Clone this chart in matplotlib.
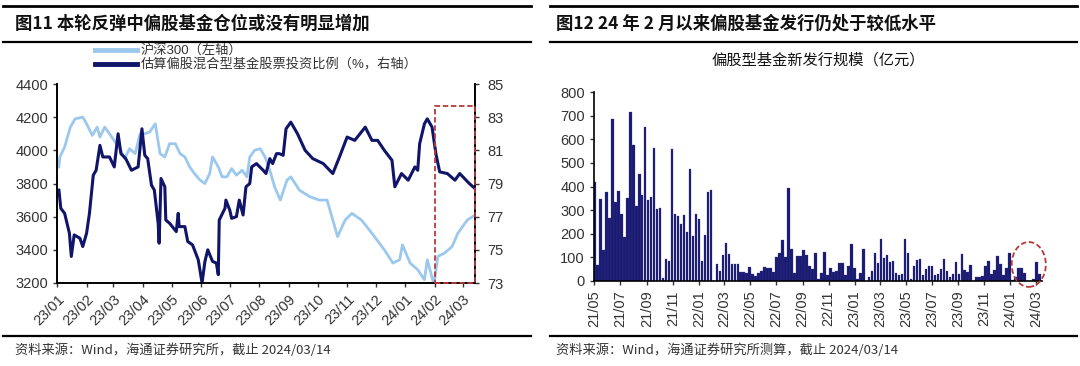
import matplotlib
matplotlib.use("Agg")
import matplotlib.pyplot as plt
import matplotlib.dates as mdates
from matplotlib.lines import Line2D
from matplotlib.patches import Rectangle, Ellipse
import pandas as pd

plt.rcParams["font.family"] = ["Liberation Sans", "Noto Sans CJK SC", "DejaVu Sans"]
CJK = ["Noto Sans CJK SC", "DejaVu Sans"]

# ---- left chart data ----
csi_dates = [
    "2023-01-03", "2023-01-04", "2023-01-09", "2023-01-15", "2023-01-20", "2023-01-28",
    "2023-02-01", "2023-02-07", "2023-02-12", "2023-02-15", "2023-02-20", "2023-02-25",
    "2023-03-03", "2023-03-08", "2023-03-13", "2023-03-18", "2023-03-24", "2023-03-29",
    "2023-04-03", "2023-04-08", "2023-04-14", "2023-04-19", "2023-04-24", "2023-04-29",
    "2023-05-05", "2023-05-10", "2023-05-15", "2023-05-20", "2023-05-25", "2023-05-31",
    "2023-06-05", "2023-06-10", "2023-06-13", "2023-06-19", "2023-06-23", "2023-06-28",
    "2023-07-03", "2023-07-08", "2023-07-14", "2023-07-19", "2023-07-22", "2023-07-27",
    "2023-08-02", "2023-08-07", "2023-08-12", "2023-08-17", "2023-08-23", "2023-08-30",
    "2023-09-03", "2023-09-12", "2023-09-23", "2023-10-03", "2023-10-11", "2023-10-22",
    "2023-10-30", "2023-11-06", "2023-11-16", "2023-11-27", "2023-12-10", "2023-12-19",
    "2023-12-26", "2023-12-29", "2024-01-06", "2024-01-14", "2024-01-21", "2024-01-24",
    "2024-01-31", "2024-02-04", "2024-02-11", "2024-02-19", "2024-02-25", "2024-03-01",
    "2024-03-06", "2024-03-14",
]
csi300 = [
    3900, 3960, 4020, 4140, 4190, 4200, 4160, 4090, 4140, 4080, 4140, 4100,
    4050, 4010, 3950, 4010, 3980, 4100, 4100, 4110, 4160, 3980, 3960, 4040,
    4040, 3980, 3960, 3900, 3860, 3820, 3800, 3860, 3960, 3900, 3840, 3840,
    3890, 3850, 3880, 3840, 3960, 4000, 4010, 3960, 3880, 3780, 3700, 3820,
    3840, 3760, 3720, 3700, 3700, 3480, 3580, 3620, 3580, 3500, 3400, 3320,
    3340, 3430, 3320, 3280, 3220, 3340, 3190, 3360, 3380, 3420, 3500, 3540,
    3580, 3610,
]

pos_dates = [
    "2023-01-03", "2023-01-05", "2023-01-09", "2023-01-14", "2023-01-16", "2023-01-19",
    "2023-01-25", "2023-01-28", "2023-02-01", "2023-02-04", "2023-02-08", "2023-02-11",
    "2023-02-15", "2023-02-18", "2023-02-25", "2023-03-02", "2023-03-06", "2023-03-09",
    "2023-03-14", "2023-03-20", "2023-03-27", "2023-03-31", "2023-04-03", "2023-04-06",
    "2023-04-10", "2023-04-13", "2023-04-17", "2023-04-18", "2023-04-20", "2023-04-24",
    "2023-04-25", "2023-04-29", "2023-05-06", "2023-05-08", "2023-05-09", "2023-05-15",
    "2023-05-18", "2023-05-23", "2023-05-29", "2023-06-02", "2023-06-05", "2023-06-08",
    "2023-06-13", "2023-06-17", "2023-06-19", "2023-06-20", "2023-06-26", "2023-06-27",
    "2023-07-01", "2023-07-03", "2023-07-08", "2023-07-11", "2023-07-15", "2023-07-18",
    "2023-07-22", "2023-07-24", "2023-07-29", "2023-08-05", "2023-08-08", "2023-08-12",
    "2023-08-15", "2023-08-19", "2023-08-22", "2023-08-26", "2023-08-29", "2023-09-03",
    "2023-09-10", "2023-09-18", "2023-09-26", "2023-10-07", "2023-10-17", "2023-10-24",
    "2023-11-01", "2023-11-09", "2023-11-20", "2023-11-27", "2023-12-03", "2023-12-10",
    "2023-12-18", "2023-12-21", "2023-12-28", "2024-01-04", "2024-01-11", "2024-01-14",
    "2024-01-16", "2024-01-21", "2024-01-24", "2024-01-29", "2024-02-02", "2024-02-06",
    "2024-02-14", "2024-02-22", "2024-02-27", "2024-03-03", "2024-03-08", "2024-03-14",
]
fund_position = [
    78.6, 77.5, 77.2, 76.0, 74.6, 75.9, 75.7, 75.2, 76.0, 77.2, 79.5, 79.8,
    81.3, 80.6, 80.6, 80.0, 82.0, 80.8, 80.5, 79.8, 80.0, 82.3, 80.7, 80.5,
    78.9, 78.6, 76.6, 75.4, 79.3, 78.8, 76.8, 76.6, 76.1, 77.2, 76.4, 76.4,
    75.5, 75.3, 74.4, 73.0, 74.3, 75.0, 74.3, 74.2, 73.5, 76.8, 77.5, 78.0,
    77.4, 76.9, 77.0, 78.0, 77.1, 78.8, 79.0, 80.0, 80.2, 79.8, 79.6, 80.5,
    80.2, 80.8, 80.8, 80.7, 82.3, 82.7, 82.0, 81.0, 80.5, 80.2, 79.6, 80.6,
    81.8, 81.6, 82.4, 81.6, 81.6, 81.0, 80.4, 78.8, 79.6, 79.2, 80.0, 79.8,
    81.4, 82.6, 82.9, 82.4, 80.8, 79.7, 79.6, 79.2, 79.6, 79.3, 79.0, 78.7,
]

# ---- right chart data: weekly new issuance (100m CNY) ----
issue_start = "2021-05-01"
issuance = [
    420, 66, 349, 133, 378, 265, 686, 336, 380, 285, 185, 350, 715, 575, 319, 452,
    365, 650, 343, 355, 563, 305, 310, 14, 93, 85, 558, 285, 275, 243, 280, 207,
    472, 190, 282, 262, 85, 193, 375, 386, 0, 73, 42, 110, 160, 115, 70, 70,
    70, 40, 40, 35, 60, 30, 22, 35, 42, 60, 55, 55, 40, 100, 120, 175,
    100, 395, 135, 35, 105, 105, 130, 110, 65, 50, 120, 10, 35, 124, 25, 53,
    40, 44, 77, 75, 25, 63, 155, 53, 7, 32, 134, 0, 15, 44, 120, 77,
    177, 96, 110, 82, 86, 35, 25, 30, 176, 117, 7, 63, 89, 94, 25, 50,
    63, 63, 25, 30, 52, 93, 44, 18, 28, 80, 28, 114, 46, 37, 68, 0,
    15, 15, 21, 65, 84, 30, 46, 107, 72, 25, 53, 120, 4, 18, 53, 53,
    32, 0, 0, 10, 80, 28,
]

LIGHT = "#9cc8ee"
NAVY = "#101569"
BAR = "#1a1a70"
RED = "#b83a3a"
TXT = "#333333"

fig = plt.figure(figsize=(10.8, 3.66), dpi=100)
W, H = 1080.0, 366.0


def fx(px):
    return px / W


def fy(py):
    return 1 - py / H


def hline(x0, x1, y, lw=2.0):
    fig.add_artist(Line2D([fx(x0), fx(x1)], [fy(y), fy(y)], color="black", lw=lw))


# rules, titles, footers
for x0, x1 in [(3, 531), (550, 1077)]:
    hline(x0, x1, 6)
    hline(x0, x1, 42, lw=1.6)
    hline(x0, x1, 336, lw=1.6)

fig.text(fx(15), fy(24), "图11 本轮反弹中偏股基金仓位或没有明显增加", family=CJK,
         fontsize=12.5, fontweight="bold", va="center", color="#111111")
fig.text(fx(556), fy(24), "图12 24 年 2 月以来偏股基金发行仍处于较低水平", family=CJK,
         fontsize=12.5, fontweight="bold", va="center", color="#111111")
fig.text(fx(15), fy(350), "资料来源：Wind，海通证券研究所，截止 2024/03/14", family=CJK,
         fontsize=9.5, va="center", color=TXT)
fig.text(fx(556), fy(350), "资料来源：Wind，海通证券研究所测算，截止 2024/03/14", family=CJK,
         fontsize=9.5, va="center", color=TXT)

# ---- left chart ----
ax = fig.add_axes([fx(57), fy(283), fx(475 - 57), (283 - 84) / H])
ax2 = ax.twinx()
d_csi = pd.to_datetime(csi_dates)
d_pos = pd.to_datetime(pos_dates)
ax.plot(d_csi, csi300, color=LIGHT, lw=2.0, solid_joinstyle="round")
ax2.plot(d_pos, fund_position, color=NAVY, lw=2.2, solid_joinstyle="round")
ax.set_ylim(3200, 4400)
ax.set_yticks(range(3200, 4401, 200))
ax2.set_ylim(73, 85)
ax2.set_yticks(range(73, 86, 2))
ax.set_xlim(pd.Timestamp("2023-01-01"), pd.Timestamp("2024-03-14"))
lticks = pd.date_range("2023-01-01", "2024-03-01", freq="MS")
ax.set_xticks(lticks)
ax.set_xticklabels([d.strftime("%y/%m") for d in lticks], rotation=45, ha="right",
                   rotation_mode="anchor", fontsize=10, color=TXT)
for a in (ax, ax2):
    a.spines["top"].set_visible(False)
    a.tick_params(labelsize=10.5, colors=TXT, length=3, width=1)
    for s in a.spines.values():
        s.set_linewidth(1.2)
ax.tick_params(axis="y", pad=3)
ax2.tick_params(axis="y", pad=6)
ax.set_zorder(ax2.get_zorder() - 1)
ax2.patch.set_visible(False)

ax2.add_patch(Rectangle((mdates.date2num(pd.Timestamp("2024-02-01")), 73),
                        mdates.date2num(pd.Timestamp("2024-03-14")) - mdates.date2num(pd.Timestamp("2024-02-01")),
                        10.7, fill=False, ec=RED, ls=(0, (3, 1.5)), lw=1.3, clip_on=False, zorder=5))

fig.add_artist(Line2D([fx(95), fx(137)], [fy(50), fy(50)], color=LIGHT, lw=3.5))
fig.add_artist(Line2D([fx(95), fx(137)], [fy(64), fy(64)], color=NAVY, lw=3.5))
fig.text(fx(141), fy(50), "沪深300（左轴）", family=["Liberation Sans", "Noto Sans CJK SC"],
         fontsize=9.5, va="center", color=TXT)
fig.text(fx(141), fy(64), "估算偏股混合型基金股票投资比例（%，右轴）",
         family=["Liberation Sans", "Noto Sans CJK SC"], fontsize=9.5, va="center", color=TXT)

# ---- right chart ----
bx = fig.add_axes([fx(594), fy(281), fx(1042 - 594), (281 - 92) / H])
bdates = pd.date_range(issue_start, periods=len(issuance), freq="7D")
bx.bar(bdates, issuance, width=6.0, color=BAR, edgecolor="#3a3a90", linewidth=0.2)
bx.set_ylim(0, 800)
bx.set_yticks(range(0, 801, 100))
bx.set_xlim(pd.Timestamp("2021-04-30"), pd.Timestamp("2024-03-15"))
rticks = pd.date_range("2021-05-01", "2024-03-01", freq="2MS")
bx.set_xticks(rticks)
bx.set_xticklabels([d.strftime("%y/%m") for d in rticks], rotation=90, fontsize=10, color=TXT)
bx.spines["top"].set_visible(False)
bx.spines["right"].set_visible(False)
for s in bx.spines.values():
    s.set_linewidth(1.2)
bx.tick_params(labelsize=10.5, colors=TXT, length=3, width=1)
bx.set_title("偏股型基金新发行规模（亿元）", family=CJK, fontsize=11, color="#111111", pad=20)

cx = mdates.date2num(pd.Timestamp("2024-02-13"))
bx.add_patch(Ellipse((cx, 70), 80, 190, fill=False, ec=RED, ls=(0, (3, 1.5)), lw=1.3,
                     clip_on=False, zorder=5))

fig.savefig("out.png", dpi=100)
